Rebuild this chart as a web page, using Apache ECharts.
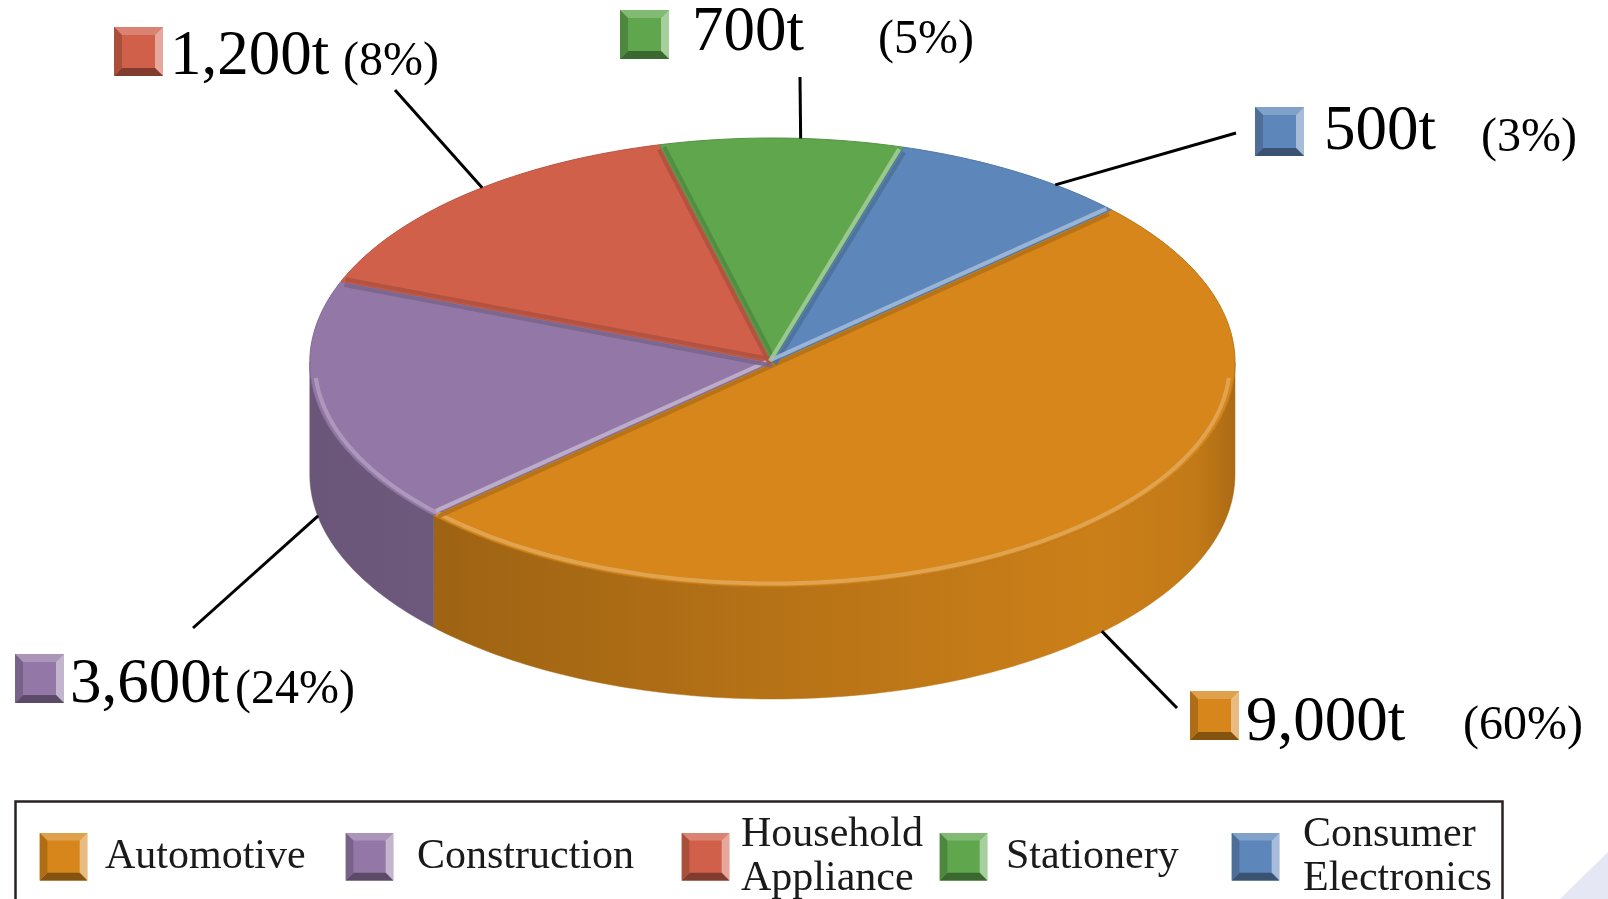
<!DOCTYPE html>
<html>
<head>
<meta charset="utf-8">
<title>Usage by sector</title>
<script src="https://cdn.jsdelivr.net/npm/echarts@6/dist/echarts.min.js"></script>
<style>
html, body { margin: 0; padding: 0; background: #fff; }
#main { width: 1608px; height: 899px; }
</style>
</head>
<body>
<div id="main"></div>
<script>
// values
var categories = ['Automotive', 'Construction', 'Household Appliance', 'Stationery', 'Consumer Electronics'];
var tonnage = [9000, 3600, 1200, 700, 500];
// size of each slice as drawn in the picture (% of the disc)
var sliceShare = [50.0, 17.8, 15.2, 8.5, 8.5];
var colors = ['#D6861A', '#9378A7', '#D1604B', '#5FA64D', '#5D86BA'];

// disc geometry (pixels)
var PIE = { cx: 772.4, cy: 362.5, rx: 462.6, ry: 224.5, depth: 112, startAngle: -42.9 };
var FONT = '"Liberation Serif", "Times New Roman", serif';

// where the callouts sit
var labelLayout = [
	{ shift: -2.5, end: [1177, 708], box: [1190, 691], text: [1246, 723], pct: [1463, 726] },
	{ shift: 0,    end: [193, 628],  box: [15, 654],   text: [70, 685],   pct: [235, 690] },
	{ shift: 2.6,  end: [395, 90],   box: [114, 27],   text: [170, 57],   pct: [343, 62] },
	{ shift: 2.3,  end: [800, 77],   box: [620, 10],   text: [692, 33],   pct: [878, 40] },
	{ shift: 5.9,  end: [1236, 133], box: [1255, 107], text: [1324, 132], pct: [1481, 138] }
];
var legendLayout = [
	{ left: 39, pad: 12 },
	{ left: 345, pad: 18 },
	{ left: 681, pad: 6 },
	{ left: 939, pad: 13 },
	{ left: 1231, pad: 18 }
];

function sum(arr) { return arr.reduce(function (a, b) { return a + b; }, 0); }
var shareTotal = sum(sliceShare);
var tonTotal = sum(tonnage);

function rgb(h) { return [parseInt(h.slice(1, 3), 16), parseInt(h.slice(3, 5), 16), parseInt(h.slice(5, 7), 16)]; }
function shade(h, f) {
	return 'rgb(' + rgb(h).map(function (v) { return Math.round(Math.min(255, v * f)); }).join(',') + ')';
}
function tint(h, f) {
	return 'rgb(' + rgb(h).map(function (v) { return Math.round(v + (255 - v) * f); }).join(',') + ')';
}
function rad(d) { return d * Math.PI / 180; }
function ept(t, dy) {
	return [PIE.cx + PIE.rx * Math.cos(rad(t)), PIE.cy + PIE.ry * Math.sin(rad(t)) + (dy || 0)];
}
function arcPts(t0, t1, dy, inset) {
	var n = Math.max(2, Math.ceil(Math.abs(t1 - t0))), pts = [];
	var rx = PIE.rx - inset, ry = PIE.ry - inset * 0.7;
	for (var j = 0; j <= n; j++) {
		var t = rad(t0 + (t1 - t0) * j / n);
		pts.push([PIE.cx + rx * Math.cos(t), PIE.cy + ry * Math.sin(t) + dy]);
	}
	return pts;
}
function fmt(v) { return String(v).replace(/\B(?=(\d{3})+(?!\d))/g, ','); }

var sideStops = [[0, 0.72], [0.14, 0.74], [0.5, 0.85], [0.85, 0.95], [0.96, 0.9], [1, 0.8]];
function sideFill(base) {
	return {
		type: 'linear', x: PIE.cx - PIE.rx, y: 0, x2: PIE.cx + PIE.rx, y2: 0, global: true,
		colorStops: sideStops.map(function (s) { return { offset: s[0], color: shade(base, s[1]) }; })
	};
}

function bevelSquare(x, y, s, color) {
	var b = 8;
	var P = function (pts) { return pts.map(function (p) { return [x + p[0], y + p[1]]; }); };
	return [
		{ type: 'rect', z2: 5, shape: { x: x, y: y, width: s, height: s }, style: { fill: color } },
		{ type: 'polygon', z2: 6, shape: { points: P([[0, 0], [s, 0], [s - b, b], [b, b]]) }, style: { fill: tint(color, 0.22) } },
		{ type: 'polygon', z2: 6, shape: { points: P([[s, 0], [s, s], [s - b, s - b], [s - b, b]]) }, style: { fill: tint(color, 0.45) } },
		{ type: 'polygon', z2: 6, shape: { points: P([[0, s], [s, s], [s - b, s - b], [b, s - b]]) }, style: { fill: shade(color, 0.62) } },
		{ type: 'polygon', z2: 6, shape: { points: P([[0, 0], [b, b], [b, s - b], [0, s]]) }, style: { fill: shade(color, 0.82) } }
	];
}
function bevelIcon(c) {
	var s = 49, b = 8;
	var svg = '<svg xmlns="http://www.w3.org/2000/svg" width="' + s + '" height="' + s + '" viewBox="0 0 ' + s + ' ' + s + '">' +
		'<rect width="' + s + '" height="' + s + '" fill="' + c + '"/>' +
		'<polygon points="0,0 ' + s + ',0 ' + (s - b) + ',' + b + ' ' + b + ',' + b + '" fill="' + tint(c, 0.22) + '"/>' +
		'<polygon points="' + s + ',0 ' + s + ',' + s + ' ' + (s - b) + ',' + (s - b) + ' ' + (s - b) + ',' + b + '" fill="' + tint(c, 0.45) + '"/>' +
		'<polygon points="0,' + s + ' ' + s + ',' + s + ' ' + (s - b) + ',' + (s - b) + ' ' + b + ',' + (s - b) + '" fill="' + shade(c, 0.62) + '"/>' +
		'<polygon points="0,0 ' + b + ',' + b + ' ' + b + ',' + (s - b) + ' 0,' + s + '" fill="' + shade(c, 0.82) + '"/>' +
		'</svg>';
	return 'image://data:image/svg+xml;charset=utf-8,' + encodeURIComponent(svg);
}

function renderSlice(params, api) {
	var i = params.seriesIndex;
	var base = colors[i];
	var a0 = PIE.startAngle + sum(sliceShare.slice(0, i)) / shareTotal * 360;
	var a1 = a0 + api.value(0) / shareTotal * 360;
	var mid = (a0 + a1) / 2;
	var children = [];
	var k, s, e;

	// outer wall, only the part facing the viewer
	for (k = -1; k <= 1; k++) {
		s = Math.max(a0, k * 360);
		e = Math.min(a1, k * 360 + 180);
		if (e > s) {
			children.push({
				type: 'polygon', z2: 0,
				shape: { points: arcPts(s, e, 0, 0).concat(arcPts(e, s, PIE.depth, 0)) },
				style: { fill: sideFill(base), stroke: sideFill(base), lineWidth: 0.5 }
			});
		}
	}
	// top face
	children.push({
		type: 'polygon', z2: 1,
		shape: { points: [[PIE.cx, PIE.cy]].concat(arcPts(a0, a1, 0, 0)) },
		style: { fill: base, stroke: shade(base, 0.88), lineWidth: 1 }
	});
	// bevel light along the front rim
	for (k = -1; k <= 1; k++) {
		s = Math.max(a0, k * 360 + 4);
		e = Math.min(a1, k * 360 + 176);
		if (e > s) {
			children.push({
				type: 'polyline', z2: 2,
				shape: { points: arcPts(s, e, 0, 5) },
				style: { stroke: tint(base, 0.32), lineWidth: 4, fill: null, opacity: 0.75 }
			});
		}
	}
	// bevel on the cut edges: lit when the edge faces down and right
	var m = ept(mid, 0);
	[a0, a1].forEach(function (a) {
		var p = ept(a, 0);
		var dx = p[0] - PIE.cx, dy = p[1] - PIE.cy, len = Math.sqrt(dx * dx + dy * dy);
		var d = [dx / len, dy / len], n = [-d[1], d[0]];
		if ((m[0] - PIE.cx) * n[0] + (m[1] - PIE.cy) * n[1] < 0) n = [-n[0], -n[1]];
		var lit = -n[0] > 0 && -n[1] > 0;
		children.push({
			type: 'line', z2: 2,
			shape: { x1: PIE.cx + n[0] * 3, y1: PIE.cy + n[1] * 3, x2: p[0] + n[0] * 3 - d[0] * 4, y2: p[1] + n[1] * 3 - d[1] * 4 },
			style: { stroke: lit ? tint(base, 0.42) : shade(base, 0.84), lineWidth: 4, opacity: 0.9 }
		});
	});

	// callout
	var lay = labelLayout[i];
	var at = mid + lay.shift;
	var anc = ept(at, 0);
	if (Math.sin(rad(at)) > 0) anc[1] += PIE.depth - 1;
	children.push({
		type: 'line', z2: 4,
		shape: { x1: anc[0], y1: anc[1], x2: lay.end[0], y2: lay.end[1] },
		style: { stroke: '#000', lineWidth: 3 }
	});
	children = children.concat(bevelSquare(lay.box[0], lay.box[1], 49, base));
	var tons = api.value(1);
	children.push({
		type: 'text', z2: 7, x: lay.text[0], y: lay.text[1],
		style: { text: fmt(tons) + 't', font: '63px ' + FONT, fill: '#000',
			align: 'left', verticalAlign: 'middle', textAlign: 'left', textVerticalAlign: 'middle' }
	});
	children.push({
		type: 'text', z2: 7, x: lay.pct[0], y: lay.pct[1],
		style: { text: '(' + Math.round(tons / tonTotal * 100) + '%)', font: '48px ' + FONT, fill: '#000',
			align: 'left', verticalAlign: 'middle', textAlign: 'left', textVerticalAlign: 'middle' }
	});
	return { type: 'group', children: children };
}

var myChart = echarts.init(document.getElementById('main'));
var option = {
	animation: false,
	backgroundColor: '#fff',
	tooltip: { show: false },
	legend: categories.map(function (name, i) {
		var twoLines = name.indexOf(' ') > 0;
		return {
			data: [{ name: name, icon: bevelIcon(colors[i]) }],
			left: legendLayout[i].left,
			top: twoLines ? 856.7 - 44 : 832.7,
			padding: 0,
			itemWidth: 49,
			itemHeight: 48,
			selectedMode: false,
			formatter: function (n) { return n.replace(' ', '\n'); },
			textStyle: {
				fontFamily: FONT, fontSize: 42, lineHeight: 44, color: '#1a1a1a',
				padding: [0, 0, 0, legendLayout[i].pad]
			}
		};
	}),
	graphic: [
		{ type: 'rect', silent: true, shape: { x: 15.5, y: 801.5, width: 1487, height: 130 },
			style: { fill: 'none', stroke: '#2a2222', lineWidth: 2.5 } },
		{ type: 'polygon', silent: true, shape: { points: [[1560, 899], [1608, 852], [1608, 899]] },
			style: { fill: '#E6E7F4' } }
	],
	series: categories.map(function (name, i) {
		return {
			type: 'custom',
			name: name,
			coordinateSystem: 'none',
			silent: true,
			itemStyle: { color: colors[i] },
			data: [[sliceShare[i], tonnage[i]]],
			renderItem: renderSlice
		};
	})
};
myChart.setOption(option);
</script>
</body>
</html>
